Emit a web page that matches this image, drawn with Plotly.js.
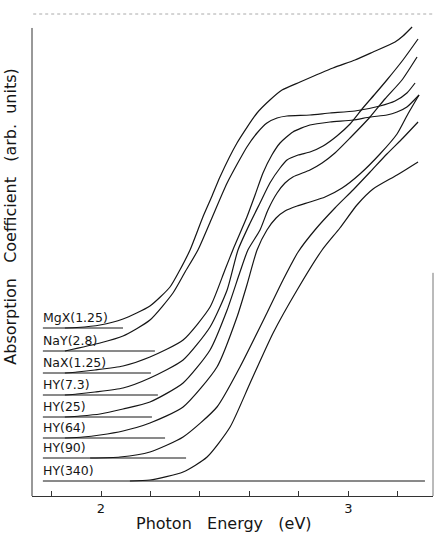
<!DOCTYPE html>
<html>
<head>
<meta charset="utf-8">
<script src="https://cdn.plot.ly/plotly-3.0.1.min.js"></script>
<style>
  html, body { margin: 0; padding: 0; background: #fff; }
  #chart { width: 436px; height: 534px; }
</style>
</head>
<body>
<div id="chart"></div>
<script>
// Sample names, in the order the spectra are stacked (top to bottom)
const samples = ['MgX(1.25)', 'NaY(2.8)', 'NaX(1.25)', 'HY(7.3)', 'HY(25)', 'HY(64)', 'HY(90)', 'HY(340)'];

// Zero level of each offset spectrum (arb. units) and where its baseline stops (eV)
const baselineLevel = [16.8, 14.5, 12.3, 10.1, 7.9, 5.8, 3.8, 1.5];
const baselineStart = 1.765;
const baselineEnd = [2.089, 2.218, 2.202, 2.230, 2.206, 2.259, 2.344, 3.310];

// Photon energy (eV) and absorption coefficient (arb. units) for each sample
const eMgX = [1.854,1.903,1.996,2.089,2.198,2.279,2.319,2.360,2.412,2.449,2.481,2.550,2.631,2.683,2.732,2.805,2.938,3.027,3.100,3.189,3.221,3.258];
const aMgX = [16.8,16.85,17.1,17.7,19.0,20.9,22.6,24.6,27.9,30.0,31.9,35.3,38.3,39.6,40.6,41.4,42.8,43.6,44.4,45.4,46.0,46.9];

const eNaY = [1.854,1.996,2.089,2.198,2.291,2.340,2.392,2.445,2.510,2.590,2.631,2.671,2.712,2.752,2.845,2.926,3.027,3.128,3.189,3.237,3.270];
const aNaY = [14.5,15.3,16.0,17.6,20.3,22.4,24.6,27.6,31.3,34.9,36.3,37.3,37.8,38.0,38.1,38.3,38.5,39.0,39.5,40.3,41.3];

const eNaX = [1.854,1.903,1.976,2.089,2.198,2.332,2.441,2.501,2.538,2.590,2.623,2.655,2.691,2.724,2.776,2.845,2.926,3.019,3.088,3.156,3.197,3.237,3.286];
const aNaX = [12.3,12.4,12.6,13.0,13.9,15.6,18.9,22.6,24.9,27.9,30.1,32.3,34.1,35.3,36.4,37.1,37.4,37.6,37.9,38.1,38.4,38.9,40.1];

const eHY7 = [1.854,1.903,1.976,2.089,2.198,2.332,2.441,2.510,2.554,2.603,2.643,2.683,2.724,2.752,2.797,2.845,2.898,2.954,3.007,3.059,3.108,3.156,3.221,3.282];
const aHY7 = [10.1,10.2,10.4,10.8,11.8,13.6,16.9,20.6,24.6,27.3,29.3,31.3,32.8,33.6,34.1,34.4,35.0,36.0,37.2,38.8,40.2,41.6,43.6,45.7];

const eHY25 = [1.854,1.915,1.996,2.089,2.198,2.332,2.441,2.510,2.562,2.594,2.643,2.675,2.712,2.744,2.776,2.845,2.894,2.946,3.007,3.088,3.148,3.217,3.278];
const aHY25 = [7.9,8.0,8.2,8.7,9.4,11.3,14.6,18.6,22.4,24.6,26.6,28.6,30.3,31.3,31.9,32.6,33.3,34.3,35.8,37.9,39.7,41.6,43.9];

const eHY64 = [1.854,1.927,1.996,2.089,2.198,2.332,2.469,2.550,2.590,2.631,2.671,2.708,2.744,2.793,2.845,2.906,2.975,3.047,3.128,3.197,3.241,3.286];
const aHY64 = [5.8,5.9,6.1,6.5,7.3,8.9,12.9,17.9,21.1,24.6,26.6,27.8,28.5,29.0,29.4,29.9,30.8,32.2,34.2,36.2,38.2,40.1];

const eHY90 = [1.956,2.077,2.198,2.332,2.469,2.562,2.671,2.736,2.797,2.865,2.946,3.019,3.088,3.156,3.221,3.282];
const aHY90 = [3.8,3.9,4.4,5.9,8.9,12.9,18.3,21.6,24.4,26.6,28.8,30.6,32.4,34.2,35.8,37.4];

const eHY340 = [2.117,2.198,2.332,2.429,2.522,2.603,2.696,2.793,2.894,2.966,3.035,3.100,3.197,3.282];
const aHY340 = [1.5,1.6,2.4,3.9,6.9,11.3,16.3,20.6,24.6,26.8,29.1,30.7,32.1,33.4];

// Axis ticks: every 0.2 eV, labelled only at whole electron-volts
const tickEnergies = [1.8, 2.0, 2.2, 2.4, 2.6, 2.8, 3.0, 3.2];
const tickLabels = ['', '2', '', '', '', '', '3', ''];

const energies = [eMgX, eNaY, eNaX, eHY7, eHY25, eHY64, eHY90, eHY340];
const absorbance = [aMgX, aNaY, aNaX, aHY7, aHY25, aHY64, aHY90, aHY340];

const ink = '#151515';
const traces = [];

samples.forEach((name, i) => {
  // baseline of the offset spectrum
  traces.push({
    type: 'scatter', mode: 'lines', hoverinfo: 'skip', showlegend: false,
    x: [baselineStart, baselineEnd[i]],
    y: [baselineLevel[i], baselineLevel[i]],
    line: { color: ink, width: 1 }
  });
  // absorption edge
  traces.push({
    type: 'scatter', mode: 'lines', name: name, showlegend: false,
    x: energies[i], y: absorbance[i],
    line: { color: ink, width: 1.2, shape: 'spline', smoothing: 0.6 }
  });
});

const labelFont = { family: 'DejaVu Sans, sans-serif', size: 12.5, color: ink };
const annotations = samples.map((name, i) => ({
  xref: 'x', yref: 'y', x: baselineStart - 0.008, y: baselineLevel[i] + 1.05,
  xanchor: 'left', yanchor: 'middle', showarrow: false,
  text: name, font: labelFont
}));

annotations.push({
  xref: 'paper', yref: 'paper', x: 0.478, y: -0.058,
  xanchor: 'center', yanchor: 'middle', showarrow: false,
  text: 'Photon\u00a0\u00a0\u00a0Energy\u00a0\u00a0\u00a0(eV)',
  font: { family: 'DejaVu Sans, sans-serif', size: 16, color: ink }
});
annotations.push({
  xref: 'paper', yref: 'paper', x: -0.053, y: 0.581,
  xanchor: 'center', yanchor: 'middle', showarrow: false, textangle: -90,
  text: 'Absorption\u00a0\u00a0\u00a0Coefficient\u00a0\u00a0\u00a0(arb.\u00a0\u00a0units)',
  font: { family: 'DejaVu Sans, sans-serif', size: 16, color: ink }
});

const layout = {
  width: 436, height: 534,
  margin: { l: 32, r: 3, t: 14, b: 38, pad: 0 },
  paper_bgcolor: '#fff', plot_bgcolor: '#fff',
  showlegend: false,
  xaxis: {
    range: [1.721, 3.3425], showgrid: false, zeroline: false,
    showline: true, linecolor: '#333', linewidth: 1,
    ticks: 'inside', ticklen: 5, tickwidth: 1, tickcolor: '#333',
    tickmode: 'array', tickvals: tickEnergies, ticktext: tickLabels,
    tickfont: { family: 'DejaVu Sans, sans-serif', size: 13, color: ink }
  },
  yaxis: {
    range: [0, 48.2], showgrid: false, zeroline: false,
    showline: false, showticklabels: false, ticks: ''
  },
  shapes: [
    // left frame edge
    { type: 'line', xref: 'paper', yref: 'paper', x0: 0, x1: 0, y0: 0, y1: 0.971,
      line: { color: '#333', width: 1 } },
    // short right frame edge
    { type: 'line', xref: 'paper', yref: 'paper', x0: 1, x1: 1, y0: 0, y1: 0.463,
      line: { color: '#777', width: 1 } },
    // faint top edge
    { type: 'line', xref: 'paper', yref: 'paper', x0: 0.003, x1: 1.005, y0: 1, y1: 1,
      line: { color: '#aaa', width: 1, dash: 'dot' } }
  ],
  annotations: annotations
};

Plotly.newPlot('chart', traces, layout, { displayModeBar: false, staticPlot: true });
</script>
</body>
</html>
